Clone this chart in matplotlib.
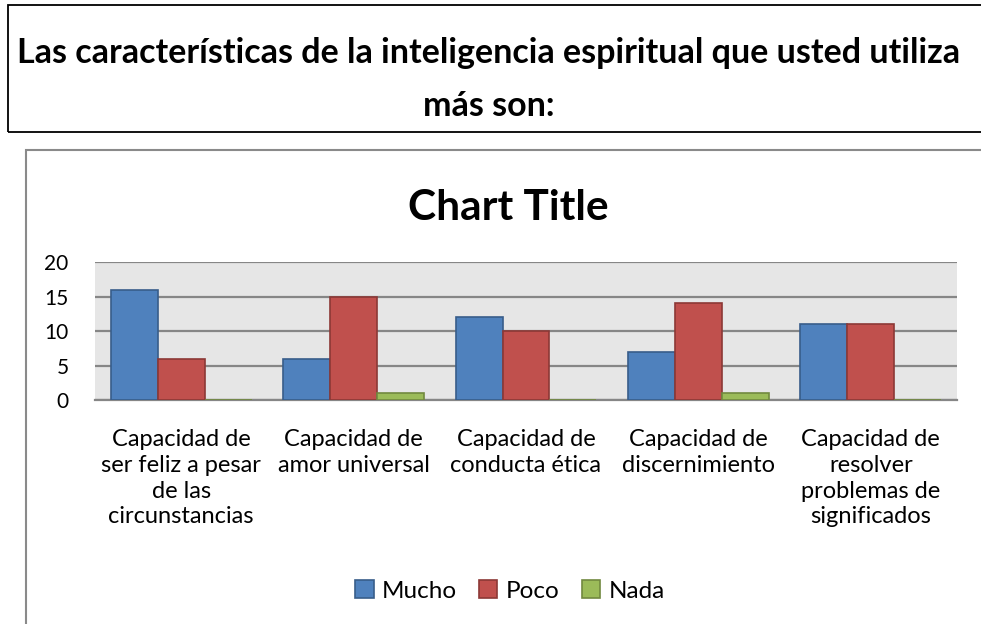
import matplotlib
matplotlib.use("Agg")
import matplotlib.pyplot as plt
from matplotlib.patches import Rectangle
import numpy as np

plt.rcParams['font.family'] = ['Lato', 'DejaVu Sans']

categories = [
    "Capacidad de\nser feliz a pesar\nde las\ncircunstancias",
    "Capacidad de\namor universal",
    "Capacidad de\nconducta ética",
    "Capacidad de\ndiscernimiento",
    "Capacidad de\nresolver\nproblemas de\nsignificados",
]
series_names = ["Mucho", "Poco", "Nada"]
mucho = [16, 6, 12, 7, 11]
poco = [6, 15, 10, 14, 11]
nada = [0, 1, 0, 1, 0]

W, H = 981, 624
fig = plt.figure(figsize=(W / 100, H / 100), dpi=100)


def fx(px):
    return px / W


def fy(py):
    return 1 - py / H


# header box
fig.patches.append(Rectangle((fx(8), fy(132)), fx(990 - 8), fy(5) - fy(132),
                             transform=fig.transFigure, fill=False,
                             edgecolor='black', lw=1.3))
fig.text(fx(489), fy(53), "Las características de la inteligencia espiritual que usted utiliza",
         ha='center', va='center', fontsize=24.5, fontweight='bold')
fig.text(fx(489), fy(106), "más son:", ha='center', va='center',
         fontsize=24.5, fontweight='bold')

# chart box
fig.patches.append(Rectangle((fx(26), fy(640)), fx(1000 - 26), fy(150) - fy(640),
                             transform=fig.transFigure, fill=False,
                             edgecolor='#8a8a8a', lw=1.5))
fig.text(fx(508), fy(208), "Chart Title", ha='center', va='center',
         fontsize=30.5, fontweight='bold')

ax = fig.add_axes([fx(95), fy(400), fx(957 - 95), fy(262) - fy(400)])
ax.set_facecolor('#E6E6E6')

x = np.arange(len(categories))
bw = 0.272
colors = ['#4F81BD', '#C0504D', '#9BBB59']
edges = ['#385D8A', '#8C3836', '#71893F']
for i, (vals, name) in enumerate(zip([mucho, poco, nada], series_names)):
    ax.bar(x + (i - 1) * bw, vals, bw, color=colors[i], edgecolor=edges[i],
           lw=1.2, label=name, zorder=3)

ax.set_xlim(-0.5, len(categories) - 0.5)
ax.set_ylim(0, 20)
ax.set_yticks([0, 5, 10, 15, 20])
ax.yaxis.grid(True, color='#868686', lw=1.6, zorder=1)
ax.set_axisbelow(True)
for s in ['top', 'right', 'left']:
    ax.spines[s].set_visible(False)
ax.spines['bottom'].set_color('#868686')
ax.spines['bottom'].set_linewidth(1.6)
ax.tick_params(axis='both', length=0)
ax.tick_params(axis='y', pad=19, labelsize=15)
ax.tick_params(axis='x', pad=21, labelsize=17)
ax.set_xticks(x)
ax.set_xticklabels(categories, linespacing=1.28)
for t in ax.get_xticklabels():
    t.set_ha('center')

handles, labels = ax.get_legend_handles_labels()
fig.legend(handles, labels, loc='center', bbox_to_anchor=(fx(510), fy(591)),
           ncol=3, frameon=False, fontsize=17.5, handlelength=0.75, handleheight=0.75,
           handletextpad=0.35, columnspacing=0.9)

fig.savefig("out.png", dpi=100)
